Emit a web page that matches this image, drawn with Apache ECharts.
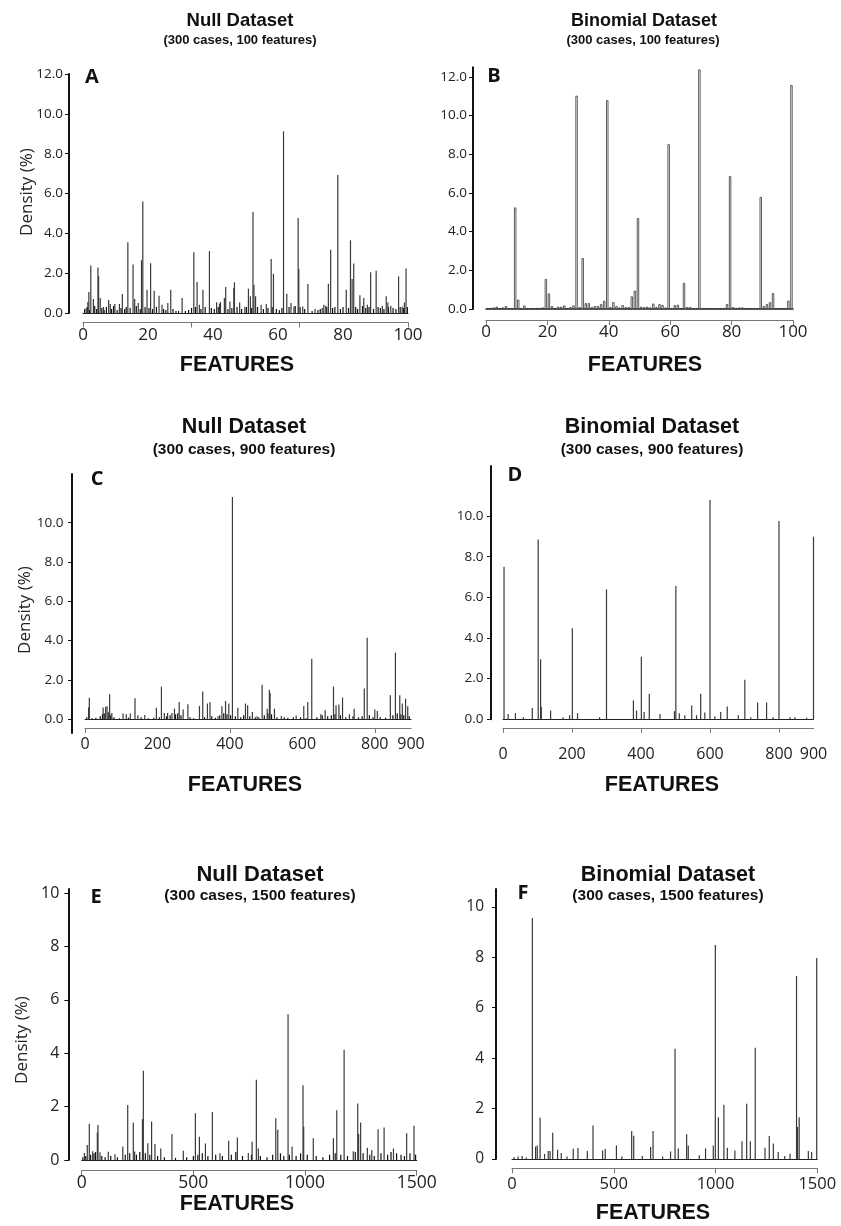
<!DOCTYPE html>
<html>
<head>
<meta charset="utf-8">
<script src="https://cdn.jsdelivr.net/npm/echarts@6/dist/echarts.min.js"></script>
<style>
html, body { margin: 0; padding: 0; background: #fff; }
#chart { width: 841px; height: 1226px; }
</style>
</head>
<body>
<div id="chart"></div>
<script>
// ---- data: [feature, density %] ----
const nullA_peaks = [[1.0,0.25],[1.5,0.55],[1.8,1.05],[2.4,2.38],[3.2,0.7],[4.6,2.28],[4.8,1.85],[5.3,0.75],[6.3,0.3],[7.9,0.65],[8.4,0.45],[9.8,0.45],[11.2,0.45],[12.1,0.95],[13.8,3.55],[15.4,2.43],[15.9,0.7],[17.0,0.5],[18.0,2.65],[18.4,5.6],[19.7,1.17],[20.8,2.5],[21.9,1.12],[23.4,0.87],[24.3,0.42],[26.1,0.5],[27.0,1.17],[30.5,0.75],[34.1,3.05],[35.1,1.56],[35.8,0.42],[36.9,1.17],[38.9,3.11],[41.1,0.54],[42.0,0.47],[42.3,0.55],[43.5,0.75],[43.9,1.3],[45.2,0.58],[46.4,1.26],[46.6,1.54],[48.2,0.53],[49.8,0.32],[50.9,1.22],[51.5,0.84],[52.3,5.07],[52.6,1.42],[53.1,0.84],[54.8,0.42],[56.4,0.45],[57.9,2.71],[58.6,1.97],[61.7,9.12],[62.7,0.97],[64.0,0.5],[64.9,0.33],[66.2,4.77],[66.4,2.21],[67.6,0.33],[69.2,1.46],[71.4,0.2],[73.6,0.25],[74.1,0.42],[74.7,0.37],[75.5,1.47],[76.2,3.18],[78.4,6.93],[81.0,1.17],[82.3,3.65],[82.8,1.71],[83.3,2.48],[85.2,0.89],[86.4,0.75],[87.5,0.42],[88.5,2.04],[90.2,2.12],[92.1,0.37],[93.3,0.84],[93.8,0.53],[94.7,0.37],[97.1,1.84],[98.2,0.33],[98.9,0.53],[99.4,2.23]]
const nullA_noise = [[0.5,0.2],[1.3,0.3],[2.0,0.15],[3.6,0.35],[4.2,0.2],[5.8,0.25],[6.5,0.15],[7.2,0.3],[8.8,0.2],[9.4,0.35],[10.5,0.15],[11.7,0.25],[12.8,0.2],[13.3,0.3],[14.5,0.25],[16.4,0.35],[17.6,0.2],[19.1,0.3],[20.3,0.25],[21.4,0.2],[22.6,0.3],[24.8,0.2],[25.5,0.15],[27.7,0.2],[28.6,0.1],[29.4,0.1],[31.5,0.1],[32.5,0.15],[33.4,0.25],[34.6,0.3],[36.3,0.2],[37.6,0.3],[39.5,0.25],[40.4,0.2],[41.6,0.3],[44.6,0.2],[45.8,0.25],[47.4,0.3],[48.8,0.2],[50.3,0.3],[51.9,0.25],[53.7,0.3],[55.5,0.2],[56.9,0.25],[58.2,0.3],[59.5,0.2],[60.4,0.15],[61.2,0.25],[63.4,0.3],[65.3,0.35],[66.8,0.3],[68.2,0.2],[70.5,0.1],[72.3,0.15],[73.0,0.2],[75.0,0.3],[76.8,0.25],[77.5,0.3],[79.2,0.2],[80.0,0.3],[81.7,0.25],[83.9,0.3],[84.5,0.2],[86.0,0.35],[87.0,0.25],[88.0,0.3],[89.4,0.2],[90.8,0.3],[91.5,0.25],[92.6,0.2],[94.0,0.3],[95.4,0.25],[96.3,0.2],[97.6,0.3],[98.6,0.25],[99.8,0.3]]

// binomial, 100 features: one value per feature 1..100
const binomB = [0.05,0.05,0.08,0.12,0.05,0.08,0.15,0.05,0.05,5.25,
  0.48,0.05,0.18,0.05,0.05,0.05,0.05,0.05,0.08,1.55,
  0.8,0.15,0.05,0.12,0.12,0.18,0.05,0.1,0.18,11.03,
  0.1,2.63,0.3,0.3,0.1,0.15,0.15,0.25,0.42,10.8,
  0.1,0.35,0.15,0.08,0.2,0.1,0.1,0.65,0.95,4.7,
  0.12,0.1,0.12,0.08,0.28,0.1,0.25,0.2,0.08,8.52,
  0.05,0.2,0.22,0.05,1.35,0.1,0.1,0.05,0.05,12.39,
  0.05,0.05,0.05,0.05,0.05,0.05,0.05,0.05,0.25,6.87,
  0.1,0.05,0.08,0.08,0.05,0.05,0.05,0.05,0.05,5.79,
  0.15,0.25,0.35,0.82,0.05,0.05,0.05,0.05,0.43,11.58]

const nullC_peaks = [[10,0.6],[12,1.1],[50,0.6],[57,0.63],[61,0.66],[68,1.27],[74,0.32],[105,0.29],[114,0.25],[125,0.29],[138,1.07],[146,0.2],[165,0.22],[197,0.59],[211,1.66],[219,0.32],[228,0.32],[240,0.32],[247,0.54],[260,0.88],[271,0.49],[284,0.76],[316,0.68],[325,1.41],[338,0.8],[345,0.88],[367,0.15],[378,0.66],[388,0.93],[397,0.8],[407,11.31],[422,0.58],[443,0.8],[449,0.71],[462,0.37],[475,0.15],[489,1.76],[503,0.54],[509,1.5],[511,1.34],[523,0.54],[542,0.17],[583,0.19],[604,0.68],[615,0.88],[626,3.08],[651,0.25],[663,0.46],[686,1.66],[693,0.71],[701,0.75],[711,1.1],[730,0.25],[743,0.54],[771,1.56],[779,4.15],[800,0.49],[807,0.42],[843,1.22],[857,3.39],[869,1.22],[876,0.8],[885,1.05],[891,0.66]]
const nullC_noise = [[5,0.1],[20,0.05],[30,0.08],[42,0.15],[48,0.25],[53,0.3],[64,0.35],[71,0.2],[80,0.1],[95,0.05],[120,0.08],[155,0.1],[175,0.05],[190,0.08],[205,0.1],[225,0.15],[235,0.2],[250,0.25],[256,0.3],[265,0.2],[290,0.1],[300,0.05],[330,0.1],[350,0.15],[360,0.08],[372,0.2],[383,0.3],[392,0.25],[402,0.2],[415,0.15],[430,0.1],[438,0.2],[455,0.15],[470,0.1],[480,0.1],[495,0.2],[505,0.3],[515,0.25],[530,0.1],[550,0.1],[560,0.08],[575,0.1],[595,0.1],[610,0.05],[640,0.1],[655,0.2],[670,0.15],[680,0.2],[690,0.25],[705,0.2],[720,0.1],[740,0.15],[755,0.1],[765,0.15],[785,0.2],[795,0.1],[815,0.1],[830,0.08],[850,0.2],[862,0.3],[872,0.25],[880,0.2],[895,0.15]]

const binomD = [[3,7.5],[15,0.26],[36,0.3],[59,0.1],[85,0.55],[102,8.85],[109,2.95],[111,0.6],[138,0.43],[174,0.1],[193,0.2],[201,4.48],[216,0.3],[280,0.1],[300,6.39],[378,0.93],[387,0.43],[401,3.08],[409,0.36],[424,1.26],[455,0.26],[497,0.4],[501,6.56],[511,0.3],[527,0.2],[547,0.68],[561,0.2],[573,1.26],[585,0.33],[600,10.79],[614,0.15],[631,0.36],[650,0.63],[682,0.2],[701,1.95],[718,0.1],[738,0.83],[764,0.83],[783,0.1],[800,9.75],[832,0.1],[846,0.1],[880,0.08],[900,8.98]]

const nullE_peaks = [[12,0.26],[25,0.56],[34,1.36],[49,0.33],[70,1.03],[73,1.31],[82,0.29],[119,0.31],[149,0.22],[184,0.51],[206,2.06],[231,1.4],[237,0.32],[272,1.53],[276,3.34],[296,0.63],[313,1.44],[328,0.6],[354,0.43],[404,0.97],[455,0.35],[509,1.75],[527,0.87],[554,0.62],[585,1.8],[619,0.25],[658,0.72],[697,0.84],[746,0.26],[763,0.68],[782,3.01],[791,0.43],[869,1.56],[878,1.13],[924,5.46],[942,0.51],[991,2.8],[994,1.25],[1037,0.81],[1127,0.81],[1142,1.86],[1175,4.13],[1216,0.33],[1236,2.12],[1240,0.97],[1249,1.4],[1279,0.46],[1299,0.37],[1327,1.15],[1354,1.22],[1396,0.43],[1455,1.0],[1488,1.28]]
const nullE_noise = [[5,0.1],[18,0.15],[40,0.2],[55,0.25],[62,0.3],[90,0.15],[105,0.1],[130,0.15],[160,0.1],[195,0.2],[215,0.25],[245,0.2],[260,0.3],[285,0.25],[305,0.2],[340,0.15],[370,0.1],[420,0.08],[470,0.1],[500,0.15],[520,0.2],[540,0.25],[565,0.15],[600,0.2],[630,0.15],[670,0.2],[690,0.3],[720,0.15],[760,0.2],[800,0.15],[830,0.1],[855,0.2],[890,0.25],[905,0.15],[930,0.2],[960,0.15],[980,0.25],[1010,0.2],[1050,0.15],[1080,0.1],[1110,0.2],[1135,0.25],[1160,0.2],[1190,0.15],[1225,0.3],[1260,0.25],[1290,0.2],[1310,0.15],[1340,0.25],[1370,0.2],[1385,0.3],[1410,0.25],[1430,0.2],[1445,0.15],[1470,0.25],[1495,0.2]]

const binomF = [[10,0.08],[30,0.1],[50,0.12],[70,0.06],[100,9.56],[116,0.5],[124,0.54],[138,1.64],[160,0.2],[178,0.32],[187,0.32],[200,1.04],[224,0.37],[242,0.24],[270,0.1],[301,0.41],[324,0.44],[370,0.32],[398,1.33],[445,0.34],[458,0.4],[513,0.54],[540,0.1],[588,1.11],[598,0.92],[640,0.12],[681,0.48],[693,1.11],[740,0.1],[779,0.3],[801,4.37],[817,0.42],[858,0.98],[866,0.54],[920,0.15],[951,0.42],[989,0.54],[999,8.49],[1014,1.66],[1041,2.15],[1058,0.45],[1095,0.34],[1130,0.7],[1153,2.19],[1171,0.7],[1195,4.41],[1243,0.45],[1264,0.91],[1284,0.61],[1308,0.28],[1340,0.12],[1366,0.21],[1398,7.26],[1403,1.27],[1411,1.66],[1456,0.32],[1472,0.28],[1497,7.97]]

const yTicks12 = [0, 2, 4, 6, 8, 10, 12]
const yTicks10 = [0, 2, 4, 6, 8, 10]
const xLabels100 = [0, 20, 40, 60, 80, 100]
const xLabels900 = [0, 200, 400, 600, 800, 900]
const xLabels1500 = [0, 500, 1000, 1500]

// ---- panel layout ----
const panels = [
    { left: 83, top: 74, width: 325, height: 239, xMax: 100, yMin: 0, yMax: 12, yTicks: yTicks12, dec: true,
      yOffset: 14, xOffset: 9.5, xTicks: [0, 100 / 3, 200 / 3, 100], xLabels: xLabels100, xFont: 17, yFont: 13.5, xMargin: 4, yMargin: 6 },
    { left: 486, top: 67.3, width: 307, height: 241.7, xMax: 100, yMin: 0, yMax: 12.5, yTicks: yTicks12, dec: true,
      yOffset: 13, xOffset: 11, xTicks: xLabels100, xLabels: xLabels100, xFont: 17, yFont: 13.5, xMargin: 4, yMargin: 6 },
    { left: 85, top: 474, width: 326, height: 259, xMax: 900, yMin: -0.7, yMax: 12.48, yTicks: yTicks10, dec: true,
      yOffset: 13, xOffset: -5, xTicks: [0, 400, 800], xLabels: xLabels900, xFont: 16, yFont: 13.5, xMargin: 8, yMargin: 8.5 },
    { left: 503, top: 466, width: 310.5, height: 253.3, xMax: 900, yMin: 0, yMax: 12.46, yTicks: yTicks10, dec: true,
      yOffset: 12, xOffset: 8.5, xTicks: [0, 200, 400, 600, 800], xLabels: xLabels900, xFont: 16, yFont: 13.5, xMargin: 19, yMargin: 7.5 },
    { left: 81.7, top: 889, width: 335, height: 271, xMax: 1500, yMin: 0, yMax: 10.15, yTicks: yTicks10, dec: false,
      yOffset: 13.4, xOffset: 10.7, xTicks: xLabels1500, xLabels: xLabels1500, xFont: 17.5, yFont: 16, xMargin: 3, yMargin: 9 },
    { left: 512, top: 889, width: 305.3, height: 270, xMax: 1500, yMin: 0, yMax: 10.71, yTicks: yTicks10, dec: false,
      yOffset: 16, xOffset: 9.3, xTicks: xLabels1500, xLabels: xLabels1500, xFont: 16.5, yFont: 15.5, xMargin: 7, yMargin: 12 }
]

const labelFont = "'Open Sans', 'Noto Sans', sans-serif"
const titleFont = "'Liberation Sans', Arial, sans-serif"

const grids = []
const xAxes = []
const yAxes = []
panels.forEach((p, i) => {
    grids.push({ left: p.left, top: p.top, width: p.width, height: p.height, outerBoundsMode: 'none' })
    yAxes.push({
        type: 'value', gridIndex: i, min: p.yMin, max: p.yMax, offset: p.yOffset,
        axisLine: { show: true, onZero: false, lineStyle: { color: '#111', width: 2 } },
        axisTick: { show: true, length: 4, customValues: p.yTicks, lineStyle: { color: '#111' } },
        axisLabel: {
            customValues: p.yTicks, margin: p.yMargin, fontSize: p.yFont, color: '#222', fontFamily: labelFont,
            formatter: v => (p.dec ? Number(v).toFixed(1) : String(v))
        },
        splitLine: { show: false }
    })
    // baseline of the data
    xAxes.push({
        type: 'value', gridIndex: i, min: 0, max: p.xMax, position: 'bottom',
        axisLine: { show: true, onZero: true, lineStyle: { color: '#222', width: i === 1 ? 1.5 : 1 } },
        axisTick: { show: false }, axisLabel: { show: false }, splitLine: { show: false }
    })
    // the FEATURES axis drawn below
    xAxes.push({
        type: 'value', gridIndex: i, min: 0, max: p.xMax, position: 'bottom', offset: p.xOffset,
        axisLine: { show: true, onZero: false, lineStyle: { color: '#777', width: 1.2 } },
        axisTick: { show: true, length: 5, customValues: p.xTicks, lineStyle: { color: '#777' } },
        axisLabel: {
            customValues: p.xLabels, margin: p.xMargin, fontSize: p.xFont, color: '#222', fontFamily: labelFont,
            formatter: v => String(v)
        },
        splitLine: { show: false }
    })
})

const spikes = (i, data, color, w) => ({
    type: 'bar', xAxisIndex: 2 * i, yAxisIndex: i, data: data, barWidth: w, barGap: '-100%',
    itemStyle: { color: color }, silent: true, clip: false
})

const series = [
    spikes(0, nullA_noise, '#111', 1.2),
    spikes(0, nullA_peaks, '#3a3a3a', 1.2),
    {
        type: 'bar', xAxisIndex: 2, yAxisIndex: 1, barWidth: 2.3, barGap: '-100%', silent: true, clip: false,
        data: binomB.map((v, k) => [k + 0.5, v]),
        itemStyle: { color: '#fff', borderColor: '#333', borderWidth: 0.8 }
    },
    spikes(2, nullC_noise, '#111', 1.2),
    spikes(2, nullC_peaks, '#3a3a3a', 1.2),
    spikes(3, binomD, '#3a3a3a', 1.2),
    spikes(4, nullE_noise, '#111', 1.2),
    spikes(4, nullE_peaks, '#3a3a3a', 1.2),
    spikes(5, binomF, '#3a3a3a', 1.2)
]

// ---- text ----
const titles = [
    ['Null Dataset', 240, 21, 18.5], ['(300 cases, 100 features)', 240, 40, 13],
    ['Binomial Dataset', 644, 21, 18], ['(300 cases, 100 features)', 643, 40, 13],
    ['Null Dataset', 244, 427, 21.5], ['(300 cases, 900 features)', 244, 450, 15.5],
    ['Binomial Dataset', 652, 427, 21.5], ['(300 cases, 900 features)', 652, 450, 15.5],
    ['Null Dataset', 260, 875, 22], ['(300 cases, 1500 features)', 260, 896, 15.5],
    ['Binomial Dataset', 668, 875, 21.5], ['(300 cases, 1500 features)', 668, 896, 15.5],
    ['FEATURES', 237, 365, 21.5], ['FEATURES', 645, 365, 21.5],
    ['FEATURES', 245, 785, 21.5], ['FEATURES', 662, 785, 21.5],
    ['FEATURES', 237, 1204, 21.5], ['FEATURES', 653, 1213, 21.5]
]
const letters = [['A', 92, 77], ['B', 494, 76], ['C', 97, 479], ['D', 515, 475], ['E', 96, 897], ['F', 523, 893]]
const yNames = [[27, 192], [25, 610], [22, 1040]]

const graphic = []
titles.forEach(t => graphic.push({
    type: 'text', x: t[1], y: t[2], silent: true,
    style: { text: t[0], fontSize: t[3], fontWeight: 'bold', fontFamily: titleFont, fill: '#111', align: 'center', verticalAlign: 'middle' }
}))
letters.forEach(t => graphic.push({
    type: 'text', x: t[1], y: t[2], silent: true,
    style: { text: t[0], fontSize: 20, fontWeight: 'bold', fontFamily: labelFont, fill: '#111', align: 'center', verticalAlign: 'middle' }
}))
yNames.forEach(t => graphic.push({
    type: 'text', x: t[0], y: t[1], rotation: Math.PI / 2, silent: true,
    style: { text: 'Density (%)', fontSize: 17, fontFamily: labelFont, fill: '#222', align: 'center', verticalAlign: 'middle' }
}))

const chart = echarts.init(document.getElementById('chart'))
chart.setOption({
    animation: false,
    backgroundColor: '#fff',
    grid: grids,
    xAxis: xAxes,
    yAxis: yAxes,
    series: series,
    graphic: graphic
})
</script>
</body>
</html>
